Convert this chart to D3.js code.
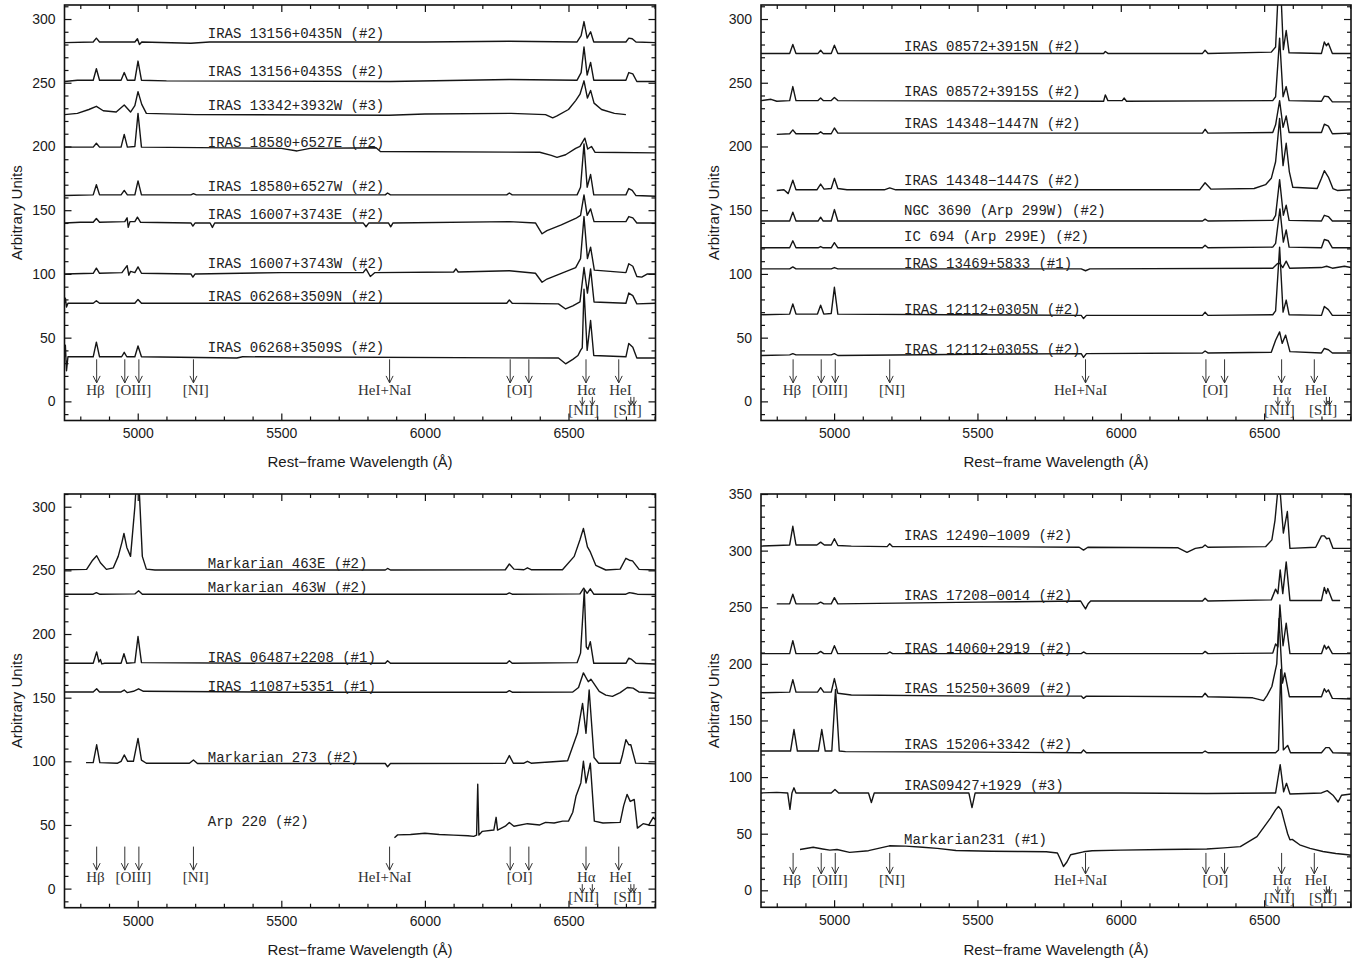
<!DOCTYPE html>
<html><head><meta charset="utf-8">
<script src="https://cdn.jsdelivr.net/npm/d3@7"></script>
<style>body{margin:0;background:#fff}</style>
</head><body>
<svg id="c" width="1365" height="962"></svg>
<script>
// ---------------- DATA (wavelength in Å, flux in arbitrary units) ----------------
const WL_DOMAIN = [4745, 6803];
const xTicks = [5000, 5500, 6000, 6500];
const yTicks300 = [0, 50, 100, 150, 200, 250, 300];
const yTicks350 = [0, 50, 100, 150, 200, 250, 300, 350];
const tlYDomain = [-15, 311], trYDomain = [-15, 311], blYDomain = [-15, 310], brYDomain = [-15, 350];
const LABEL_WL = 5244;

// emission-line markers
const longArrowWl = [4857, 4955, 5004, 5194, 5877, 6297, 6362, 6561, 6675];
const shortArrowWl = [6548, 6583, 6717, 6728];
const upperLabelText = ["Hβ", "[OIII]", "[NI]", "HeI+NaI", "[OI]", "Hα", "HeI"];
const upperLabelWl = [4853, 4985, 5202, 5860, 6330, 6562, 6681];
const lowerLabelText = ["[NII]", "[SII]"];
const lowerLabelWl = [6553, 6706];
const arrowLevels = {top: 33, tip: 14.5, shortTop: 3.5, shortTip: -3, upper: 9, lower: -6.5};

// ---- top-left panel ----
const tl_13156N = [[4745,281.5],[4845,282],[4856,285],[4867,282],[4990,282],[4999,284.5],[5006,280],[5014,282],[5185,281],[5250,282],[6000,282],[6294,282.5],[6530,282],[6544,287],[6554,298],[6565,285],[6577,290],[6588,282],[6700,282],[6710,285],[6722,284.5],[6735,282],[6803,281.5]];
const tl_13156S = [[4745,251],[4790,252],[4845,252],[4856,261],[4867,252],[4942,252],[4953,258],[4964,252],[4990,252],[5001,267],[5013,252],[5100,251.5],[5880,251],[6294,252.5],[6530,252],[6544,258],[6554,278],[6565,256],[6577,266],[6588,252],[6700,252],[6710,258],[6724,257],[6738,251],[6803,251]];
const tl_13342W = [[4745,225],[4790,226],[4830,229],[4856,231.5],[4880,228],[4925,227],[4953,232.5],[4975,227],[4990,232],[5001,243],[5014,233],[5030,226],[5200,225],[5875,224.5],[6000,225.5],[6300,226],[6420,225],[6445,222.5],[6460,224],[6500,229],[6525,236],[6540,241],[6554,251.5],[6566,238],[6577,244],[6589,234],[6615,229],[6660,226],[6700,225]];
const tl_18580E = [[4745,199.5],[4845,199.5],[4856,202.5],[4867,199.5],[4942,199.5],[4953,209.5],[4964,199.5],[4990,200],[5001,226],[5013,199.5],[5500,198.5],[5555,196.5],[5600,198.5],[5830,199],[5845,196],[6400,195.5],[6440,193],[6460,191.5],[6490,193.5],[6525,198.5],[6540,200],[6557,206.5],[6567,198],[6580,200],[6592,195.5],[6803,195]];
const tl_18580W = [[4745,161.5],[4845,162],[4856,170],[4867,162],[4942,162],[4953,165.5],[4964,162],[4990,162],[5001,173],[5013,162],[5185,162],[5194,163],[5204,162],[5862,162],[5870,163.5],[5880,162],[6285,162],[6294,163.5],[6304,162],[6530,162],[6542,168],[6554,202],[6565,168],[6577,178],[6588,162],[6700,162],[6710,167],[6722,165.5],[6735,161.5],[6803,161]];
const tl_16007E = [[4745,140],[4800,140.5],[4845,140.5],[4856,143.5],[4867,140.5],[4955,141],[4963,144],[4967,136.5],[4973,141],[4990,141],[4999,144.5],[5010,140.5],[5185,140],[5192,137.5],[5200,140],[5252,140],[5260,136.5],[5268,140],[5785,140],[5795,137],[5805,140],[5873,140],[5881,137],[5889,140],[6294,141],[6385,140],[6408,131.5],[6425,134],[6475,138.5],[6525,143.5],[6542,146],[6554,162],[6565,146],[6577,151],[6589,141],[6700,141],[6710,145],[6724,144],[6738,140],[6803,140]];
const tl_16007W = [[4745,100],[4845,100.5],[4856,104.5],[4867,100.5],[4945,101],[4963,106.5],[4969,99],[4975,102],[4990,101],[5001,105.5],[5013,100.5],[5185,100],[5192,97.5],[5200,100],[5500,101],[5785,101],[5795,104],[5810,98],[5825,101],[6100,101.5],[6108,104],[6116,101.5],[6294,102.5],[6385,100.5],[6408,93.5],[6425,96],[6475,100.5],[6525,105],[6542,112],[6554,145],[6566,112],[6577,121],[6590,103],[6700,101],[6710,108],[6724,106],[6738,98],[6755,97.5],[6775,100],[6803,100]];
const tl_06268N = [[4745,77],[4748,81],[4752,74],[4757,77],[4845,77],[4856,79],[4867,77],[4990,77],[5001,80],[5013,77],[6285,77],[6294,79.5],[6304,77],[6465,76.5],[6490,72.5],[6515,75],[6540,78],[6554,105],[6566,85],[6577,104],[6589,78],[6700,77],[6710,85],[6724,83],[6738,76.5],[6803,77]];
const tl_06268S = [[4745,35],[4748,44],[4752,24],[4757,35],[4845,35],[4856,46.5],[4867,35],[4944,35],[4953,38.5],[4962,35],[4990,35],[5001,43.5],[5013,35],[5345,34],[5365,35],[6465,34],[6490,29.5],[6515,33],[6533,36],[6542,40],[6548,42],[6554,88],[6565,40],[6577,63.5],[6588,36],[6700,35],[6710,45.5],[6724,42.5],[6738,34],[6803,34]];
const tlNames = ["IRAS 13156+0435N (#2)","IRAS 13156+0435S (#2)","IRAS 13342+3932W (#3)","IRAS 18580+6527E (#2)","IRAS 18580+6527W (#2)","IRAS 16007+3743E (#2)","IRAS 16007+3743W (#2)","IRAS 06268+3509N (#2)","IRAS 06268+3509S (#2)"];
const tlSpectra = [tl_13156N, tl_13156S, tl_13342W, tl_18580E, tl_18580W, tl_16007E, tl_16007W, tl_06268N, tl_06268S];
const tlLabelLevels = [285, 255, 228.5, 199.5, 165, 143, 104.5, 78.5, 38.5];

// ---- top-right panel ----
const tr_08572N = [[4745,273],[4845,273],[4856,280],[4867,273],[4944,273],[4953,275.5],[4962,273],[4990,273],[5001,279.5],[5013,273],[5185,273],[5940,273],[5946,274.5],[5955,273],[6285,273],[6294,275.5],[6304,273],[6525,274],[6540,278],[6554,345],[6567,276],[6577,291],[6587,273.5],[6700,273],[6710,282],[6717,279],[6724,281],[6738,273],[6803,273]];
const tr_08572S = [[4745,236],[4780,237],[4800,235.5],[4845,236],[4856,247],[4867,236],[4944,236],[4953,238],[4962,236],[4990,236],[5001,238.5],[5013,236],[5940,235.5],[5946,240.5],[5955,236],[6005,236],[6012,238],[6020,235.5],[6530,236],[6540,239],[6554,285],[6566,239],[6577,247],[6587,236],[6700,235.5],[6710,239.5],[6724,239],[6738,235],[6803,235]];
const tr_14348N = [[4800,209.5],[4845,210],[4856,213],[4867,210],[4944,210],[4953,211.5],[4962,210],[4990,210],[5001,214.5],[5013,210.5],[5500,210.5],[6285,210.5],[6294,213.5],[6304,210.5],[6530,211],[6540,217],[6554,236],[6566,215],[6577,224],[6587,211],[6700,211],[6710,217.5],[6724,216],[6738,210],[6803,210.5]];
const tr_14348S = [[4800,165.5],[4825,166],[4840,163],[4856,173.5],[4867,166],[4940,166],[4953,170.5],[4965,166.5],[4990,167],[5001,175],[5013,167],[5045,166],[5175,166],[5194,167.5],[5215,166],[6275,166],[6294,171.5],[6315,166.5],[6465,167],[6505,170],[6525,175],[6540,188],[6554,222],[6566,185],[6577,202.5],[6588,180],[6600,168],[6685,167],[6700,175],[6710,181],[6724,176],[6740,167],[6755,165.5],[6803,166]];
const tr_ngc3690 = [[4745,141.5],[4845,141.5],[4856,148.5],[4867,141.5],[4944,141.5],[4953,144.5],[4962,141.5],[4990,141.5],[5001,150.5],[5013,141.5],[6285,141.5],[6294,143],[6304,141.5],[6530,142],[6540,146],[6554,174],[6567,146],[6577,154],[6587,142],[6700,141.5],[6710,146],[6724,145],[6738,141.5],[6803,141.5]];
const tr_ic694 = [[4745,120.5],[4845,120.5],[4856,126],[4867,120.5],[4944,120.5],[4953,121.5],[4962,120.5],[4990,120.5],[5001,124.5],[5013,120.5],[6285,120.5],[6294,122.5],[6304,120.5],[6530,121],[6540,124],[6555,151],[6567,125],[6577,134.5],[6587,121],[6700,120.5],[6710,127],[6724,126],[6738,120.5],[6803,120.5]];
const tr_13469 = [[4745,104],[4845,104],[4856,105.5],[4867,104],[4990,104],[5001,105],[5013,104],[5862,104],[5877,102.5],[5892,104],[6530,104.5],[6546,108],[6554,108.5],[6565,105],[6577,110],[6589,104.5],[6700,105],[6718,106],[6738,104.5],[6780,106],[6803,105]];
const tr_12112N = [[4745,68],[4845,68.5],[4856,76.5],[4867,68.5],[4942,68.5],[4953,75.5],[4964,68.5],[4990,69],[5001,89.5],[5013,68.5],[5400,68],[5862,67.5],[5870,65],[5880,67.5],[6285,67.5],[6294,70],[6304,67.5],[6530,68],[6540,71],[6554,121],[6566,70],[6577,79.5],[6587,68],[6700,67.5],[6710,74.5],[6724,72],[6738,67.5],[6803,67.5]];
const tr_12112S = [[4745,36],[4845,36.5],[4856,37.5],[4867,36.5],[4990,36.5],[5001,37.5],[5013,36],[5500,37],[5862,37.5],[5870,34.5],[5880,37.5],[6285,38],[6294,39.5],[6304,38],[6525,38.5],[6540,48],[6554,54.5],[6563,45.5],[6575,52],[6590,39],[6700,38],[6710,41.5],[6724,40.5],[6738,38],[6803,38]];
const trNames = ["IRAS 08572+3915N (#2)","IRAS 08572+3915S (#2)","IRAS 14348−1447N (#2)","IRAS 14348−1447S (#2)","NGC 3690 (Arp 299W) (#2)","IC 694 (Arp 299E) (#2)","IRAS 13469+5833 (#1)","IRAS 12112+0305N (#2)","IRAS 12112+0305S (#2)"];
const trSpectra = [tr_08572N, tr_08572S, tr_14348N, tr_14348S, tr_ngc3690, tr_ic694, tr_13469, tr_12112N, tr_12112S];
const trLabelLevels = [275, 239.5, 214.5, 169.5, 146, 125.5, 104.5, 68.5, 37.5];

// ---- bottom-left panel ----
const bl_mrk463E = [[4745,250.5],[4822,250.8],[4843,258],[4857,261.5],[4870,256],[4891,250.8],[4915,252],[4932,261],[4945,272],[4952,279],[4962,268],[4975,261],[4990,300],[5000,337],[5008,300],[5016,261],[5030,251],[5060,250.3],[5862,250.3],[5870,251.5],[5880,250.3],[6280,250.5],[6294,255],[6310,251],[6345,250.5],[6357,252],[6370,250.5],[6479,250.5],[6520,261],[6540,274],[6552,283],[6566,268.5],[6576,264.5],[6595,254],[6630,250.3],[6680,251],[6700,259.5],[6712,258],[6723,257.5],[6746,250.8],[6803,250.3]];
const bl_mrk463W = [[4745,231.3],[4845,231.3],[4856,232.5],[4867,231.3],[4990,231.5],[5003,234],[5016,231.3],[6285,231.3],[6294,232.3],[6304,231.3],[6540,231.5],[6553,236],[6565,232],[6576,235.5],[6588,231.3],[6700,231.3],[6712,232.5],[6725,232],[6740,231.3],[6803,231]];
const bl_06487 = [[4745,177],[4845,177],[4857,186],[4865,178],[4870,180],[4875,176.5],[4885,177],[4942,177],[4952,184.5],[4962,177],[4990,177.5],[5001,198],[5013,177.5],[5500,177],[5862,177],[5870,179],[5880,177],[6285,177],[6294,179],[6304,177],[6530,177.5],[6542,185],[6550,215],[6555,234.5],[6562,190],[6568,188],[6576,194],[6588,177],[6700,177],[6710,181],[6720,180],[6735,177],[6803,176.5]];
const bl_11087 = [[4745,154.5],[4845,154.5],[4857,157],[4867,154.5],[4942,154.5],[4953,156],[4963,154],[4985,155],[5003,157],[5020,155],[5500,154.3],[6285,154.3],[6294,155.5],[6304,154.3],[6515,154.5],[6535,158],[6552,169.5],[6569,162.5],[6578,164.5],[6607,155],[6630,152],[6653,151],[6680,154],[6705,158],[6725,157.5],[6745,154.5],[6803,153.5]];
const bl_mrk273 = [[4820,99],[4845,99],[4857,113],[4868,99],[4930,98.5],[4942,100],[4953,105],[4965,100],[4985,100],[5001,118],[5013,101],[5030,98.5],[5180,98.5],[5194,101],[5208,98.3],[5862,98.3],[5870,95.7],[5880,98.3],[6280,98.5],[6294,104.5],[6308,98.5],[6345,98.5],[6357,100],[6370,98.5],[6497,100.5],[6531,122],[6549,145.5],[6561,122],[6572,156],[6589,103],[6605,98.5],[6680,98.5],[6688,105],[6700,117],[6710,113],[6717,113],[6734,98.6],[6803,98]];
const bl_arp220 = [[5894,40],[5905,42.2],[5950,42.5],[6000,43.5],[6050,42.5],[6100,42],[6150,41.5],[6170,41],[6180,42],[6184,82],[6188,42],[6200,45],[6240,46],[6248,56],[6253,46],[6280,49],[6294,52],[6310,49],[6357,51],[6400,50],[6420,52],[6450,51.5],[6480,53],[6500,53],[6515,60],[6526,72.5],[6543,83],[6552,100],[6561,83],[6576,98.5],[6590,53],[6620,51.5],[6680,52],[6692,65],[6704,74],[6715,68.5],[6729,70],[6740,47.5],[6760,51],[6780,50],[6795,56],[6803,54]];
const blNames = ["Markarian 463E (#2)","Markarian 463W (#2)","IRAS 06487+2208 (#1)","IRAS 11087+5351 (#1)","Markarian 273 (#2)","Arp 220 (#2)"];
const blSpectra = [bl_mrk463E, bl_mrk463W, bl_06487, bl_11087, bl_mrk273, bl_arp220];
const blLabelLevels = [252, 233, 178, 155.5, 99.5, 49.5];

// ---- bottom-right panel ----
const br_12490 = [[4745,304],[4800,304.5],[4845,305],[4856,321.5],[4867,305],[4940,305],[4953,307.5],[4966,305],[4990,305],[5001,310.5],[5013,304.5],[5060,304],[5185,303.5],[5194,306],[5204,303.5],[5500,303.5],[5855,303],[5870,300.5],[5885,303],[6200,302.5],[6231,298.5],[6260,302],[6285,303],[6294,305],[6304,303],[6505,303.5],[6527,309.5],[6538,327],[6552,365],[6567,315.5],[6581,334.5],[6590,302],[6680,303],[6700,313],[6710,313],[6718,310.5],[6727,311],[6740,302],[6803,302]];
const br_17208 = [[4800,253],[4845,253],[4856,261.5],[4867,253],[4942,253],[4953,254.5],[4964,253],[4990,253],[5001,258.5],[5013,253],[5500,254.5],[5860,255.5],[5868,252],[5877,248.5],[5886,253],[5895,255.5],[6285,255.5],[6294,258],[6304,255.5],[6525,256.5],[6540,266],[6548,262],[6556,283],[6565,262],[6577,290],[6590,256],[6700,256],[6710,267.5],[6717,262],[6722,266.5],[6738,256],[6765,256]];
const br_14060 = [[4745,209],[4845,209],[4856,220.5],[4867,209],[4942,209],[4953,211],[4964,209],[4990,209],[5001,216],[5013,209],[5185,209],[5194,210.5],[5204,209],[5862,209],[5870,210.5],[5880,209],[6285,209],[6294,211],[6304,209],[6530,209.5],[6540,217.5],[6548,215],[6555,252],[6566,216],[6577,236],[6590,209],[6700,209],[6710,216.5],[6717,213],[6724,215.5],[6738,209],[6803,209]];
const br_15250 = [[4745,174.5],[4845,175],[4856,186],[4867,175],[4942,175],[4953,179],[4964,175],[4990,175],[5001,187],[5013,174],[5060,172.5],[5500,171.5],[5862,171.5],[5870,169.5],[5880,171.5],[6285,171],[6294,174],[6304,171],[6460,170],[6498,167.5],[6510,172],[6527,180],[6544,200],[6552,240],[6564,183],[6572,192],[6588,171],[6700,171],[6710,178],[6717,175],[6724,177],[6738,169.5],[6803,169]];
const br_15206 = [[4745,123],[4848,123],[4860,142],[4872,123],[4945,123],[4957,142],[4969,123],[4992,123],[5005,177.5],[5018,123],[5040,122.5],[5500,122],[5862,121.5],[5870,124],[5880,121.5],[6285,121.5],[6294,123],[6304,121.5],[6540,121.5],[6550,124],[6558,195],[6567,124],[6582,128],[6592,121.5],[6700,121.5],[6715,126],[6727,126],[6740,121.5],[6803,121]];
const br_09427 = [[4745,86],[4800,86.5],[4838,86],[4846,71.5],[4853,86],[4860,90.5],[4867,86],[4990,86],[5003,89],[5016,86],[5120,86],[5130,77.5],[5140,86],[5470,86],[5481,73],[5492,86],[6000,86],[6300,85.5],[6540,86],[6556,111],[6568,87],[6578,94.5],[6590,85],[6700,86],[6720,88],[6740,84],[6758,78],[6770,84],[6803,85]];
const br_mrk231 = [[4881,36],[4927,38],[4960,36.5],[4985,35.5],[5010,36],[5054,33.5],[5120,35],[5193,39.3],[5250,39],[5309,38],[5360,37],[5425,35.2],[5550,34.5],[5657,34.3],[5740,34],[5779,33],[5790,27],[5800,21],[5812,25],[5825,31.4],[5870,34],[5900,35],[6000,35.5],[6150,36],[6300,36.5],[6360,37.5],[6417,38.6],[6475,47.4],[6522,63.8],[6540,71],[6550,74],[6560,71],[6572,59.3],[6582,50],[6590,44.6],[6598,45],[6624,40.2],[6660,37],[6705,34.3],[6750,32.5],[6792,31.4],[6803,31]];
const brNames = ["IRAS 12490−1009 (#2)","IRAS 17208−0014 (#2)","IRAS 14060+2919 (#2)","IRAS 15250+3609 (#2)","IRAS 15206+3342 (#2)","IRAS09427+1929 (#3)","Markarian231 (#1)"];
const brSpectra = [br_12490, br_17208, br_14060, br_15250, br_15206, br_09427, br_mrk231];
const brLabelLevels = [309.5, 256.5, 209.5, 174.5, 125, 88.5, 41];

// ---------------- LAYOUT ----------------
const panels = [
  {box:{left:64.5, right:655.5, top:5, bottom:420.5}, yTitleX:17, xTitleY:467, names:tlNames, spectra:tlSpectra, levels:tlLabelLevels, yDomain:tlYDomain, yTicks:yTicks300},
  {box:{left:761, right:1351, top:5, bottom:420.5}, yTitleX:714, xTitleY:467, names:trNames, spectra:trSpectra, levels:trLabelLevels, yDomain:trYDomain, yTicks:yTicks300},
  {box:{left:64.5, right:655.5, top:494, bottom:907.7}, yTitleX:17, xTitleY:955, names:blNames, spectra:blSpectra, levels:blLabelLevels, yDomain:blYDomain, yTicks:yTicks300},
  {box:{left:761, right:1351, top:494, bottom:907.3}, yTitleX:714, xTitleY:955, names:brNames, spectra:brSpectra, levels:brLabelLevels, yDomain:brYDomain, yTicks:yTicks350}
];

const svg = d3.select('#c');
const SANS = "'Liberation Sans', Arial, Helvetica, sans-serif";
const MONO = "'Liberation Mono', 'DejaVu Sans Mono', monospace";
const SERIF = "'Liberation Serif', 'Times New Roman', serif";

panels.forEach((p, i) => {
  const b = p.box;
  const x = d3.scaleLinear().domain(WL_DOMAIN).range([b.left, b.right]);
  const y = d3.scaleLinear().domain(p.yDomain).range([b.bottom, b.top]);
  const g = svg.append('g');

  const clipId = 'clip' + i;
  svg.append('defs').append('clipPath').attr('id', clipId)
    .append('rect').attr('x', b.left).attr('y', b.top)
    .attr('width', b.right - b.left).attr('height', b.bottom - b.top);

  const xMinor = d3.range(4800, 6801, 100).filter(v => !xTicks.includes(v));
  const yMinor = d3.range(Math.ceil(p.yDomain[0] / 10) * 10, p.yDomain[1] + 0.1, 10).filter(v => v % 50 !== 0);

  function styleAxis(sel) {
    sel.select('.domain').remove();
    sel.selectAll('.tick line').attr('stroke', '#111').attr('stroke-width', 1.2);
    sel.selectAll('.tick text').attr('fill', '#1a1a1a').style('font-family', SANS).style('font-size', '14px');
  }
  g.append('g').attr('transform', `translate(0,${b.bottom})`)
    .call(d3.axisBottom(x).tickValues(xTicks).tickSize(-7).tickPadding(8).tickFormat(d3.format('d'))).call(styleAxis);
  g.append('g').attr('transform', `translate(0,${b.bottom})`)
    .call(d3.axisBottom(x).tickValues(xMinor).tickSize(-4).tickFormat('')).call(styleAxis);
  g.append('g').attr('transform', `translate(0,${b.top})`)
    .call(d3.axisTop(x).tickValues(xTicks).tickSize(-7).tickFormat('')).call(styleAxis);
  g.append('g').attr('transform', `translate(0,${b.top})`)
    .call(d3.axisTop(x).tickValues(xMinor).tickSize(-4).tickFormat('')).call(styleAxis);
  g.append('g').attr('transform', `translate(${b.left},0)`)
    .call(d3.axisLeft(y).tickValues(p.yTicks).tickSize(-7).tickPadding(9).tickFormat(d3.format('d'))).call(styleAxis);
  g.append('g').attr('transform', `translate(${b.left},0)`)
    .call(d3.axisLeft(y).tickValues(yMinor).tickSize(-4).tickFormat('')).call(styleAxis);
  g.append('g').attr('transform', `translate(${b.right},0)`)
    .call(d3.axisRight(y).tickValues(p.yTicks).tickSize(-7).tickFormat('')).call(styleAxis);
  g.append('g').attr('transform', `translate(${b.right},0)`)
    .call(d3.axisRight(y).tickValues(yMinor).tickSize(-4).tickFormat('')).call(styleAxis);

  g.append('rect').attr('x', b.left).attr('y', b.top)
    .attr('width', b.right - b.left).attr('height', b.bottom - b.top)
    .attr('fill', 'none').attr('stroke', '#111').attr('stroke-width', 1.6);

  g.append('text').attr('x', (b.left + b.right) / 2).attr('y', p.xTitleY)
    .attr('text-anchor', 'middle').style('font-family', SANS).style('font-size', '15px').attr('fill', '#1a1a1a')
    .text('Rest−frame Wavelength (Å)');
  g.append('text').attr('transform', `translate(${p.yTitleX + 5},${(b.top + b.bottom) / 2}) rotate(-90)`)
    .attr('text-anchor', 'middle').style('font-family', SANS).style('font-size', '15px').attr('fill', '#1a1a1a')
    .text('Arbitrary Units');

  const line = d3.line().x(d => x(d[0])).y(d => y(d[1]));
  const sg = g.append('g').attr('clip-path', `url(#${clipId})`);
  sg.selectAll('path.spec').data(p.spectra).join('path').attr('class', 'spec')
    .attr('d', line).attr('fill', 'none').attr('stroke', '#151515')
    .attr('stroke-width', 1.4).attr('stroke-linejoin', 'round');

  g.selectAll('text.lab').data(p.names).join('text').attr('class', 'lab')
    .attr('x', x(LABEL_WL)).attr('y', (d, k) => y(p.levels[k]))
    .style('font-family', MONO).style('font-size', '14px').attr('fill', '#222')
    .text(d => d);

  const ag = g.append('g').attr('stroke', '#333').attr('stroke-width', 1).attr('fill', 'none');
  longArrowWl.forEach(w => {
    const X = x(w), t = y(arrowLevels.top), e = y(arrowLevels.tip);
    ag.append('path').attr('d', `M${X},${t}V${e}M${X - 3.5},${e - 7}L${X},${e}L${X + 3.5},${e - 7}`);
  });
  shortArrowWl.forEach(w => {
    const X = x(w), t = y(arrowLevels.shortTop), e = y(arrowLevels.shortTip);
    ag.append('path').attr('d', `M${X},${t}V${e}M${X - 2.5},${e - 4.5}L${X},${e}L${X + 2.5},${e - 4.5}`);
  });
  upperLabelText.forEach((t, k) => {
    g.append('text').attr('x', x(upperLabelWl[k])).attr('y', y(arrowLevels.upper))
      .attr('dy', '0.35em').attr('text-anchor', 'middle')
      .style('font-family', SERIF).style('font-size', '15px').attr('fill', '#333').text(t);
  });
  lowerLabelText.forEach((t, k) => {
    g.append('text').attr('x', x(lowerLabelWl[k])).attr('y', y(arrowLevels.lower))
      .attr('dy', '0.35em').attr('text-anchor', 'middle')
      .style('font-family', SERIF).style('font-size', '15px').attr('fill', '#333').text(t);
  });
});
</script>
</body></html>
